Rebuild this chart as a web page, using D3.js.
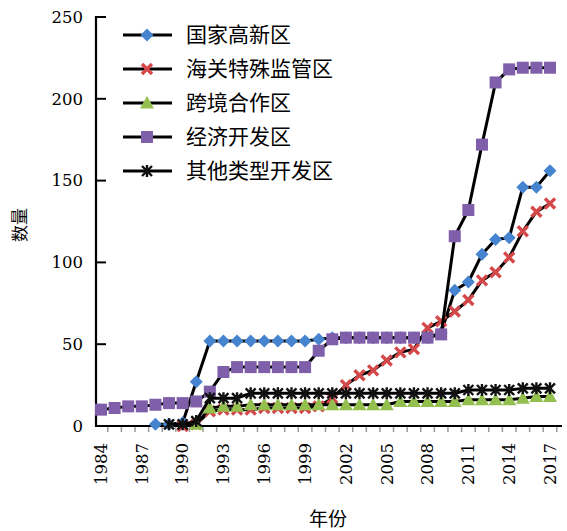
<!DOCTYPE html>
<html>
<head>
<meta charset="utf-8">
<script src="https://cdn.jsdelivr.net/npm/d3@7"></script>
<style>
  html, body { margin: 0; padding: 0; background: #fff; }
  svg { display: block; }
  .num { font-family: "DejaVu Serif", serif; }
  .cjk { font-family: "Noto Sans CJK SC", "Noto Sans", sans-serif; }
</style>
</head>
<body>
<svg id="chart" width="567" height="531"></svg>
<script>
// Years on the category axis
const years = d3.range(1984, 2018);
const yearTicks = [1984, 1987, 1990, 1993, 1996, 1999, 2002, 2005, 2008, 2011, 2014, 2017];
const valueTicks = [0, 50, 100, 150, 200, 250];

const seriesNames = ["国家高新区", "海关特殊监管区", "跨境合作区", "经济开发区", "其他类型开发区"];

// Counts per year, 1984–2017 (null = no zone of that type yet)
const gaoxin = [null, null, null, null, 1, 1, 2, 27, 52, 52, 52, 52, 52, 52, 52, 52, 53, 54, 54, 54, 54, 54, 54, 54, 54, 57, 83, 88, 105, 114, 115, 146, 146, 156];
const haiguan = [null, null, null, null, null, null, 0, 1, 9, 10, 10, 10, 11, 11, 11, 11, 12, 17, 25, 31, 34, 40, 45, 47, 60, 64, 70, 77, 89, 94, 103, 119, 131, 136];
const kuajing = [null, null, null, null, null, null, null, 1, 11, 12, 12, 13, 13, 13, 13, 13, 13, 13, 13, 13, 13, 13, 15, 15, 15, 15, 15, 16, 16, 16, 16, 17, 18, 18];
const jingji = [10, 11, 12, 12, 13, 14, 14, 15, 21, 33, 36, 36, 36, 36, 36, 36, 46, 53, 54, 54, 54, 54, 54, 54, 54, 56, 116, 132, 172, 210, 218, 219, 219, 219];
const qita = [null, null, null, null, null, 1, 1, 3, 17, 17, 17, 20, 20, 20, 20, 20, 20, 20, 20, 20, 20, 20, 20, 20, 20, 20, 20, 22, 22, 22, 22, 23, 23, 23];

const seriesValues = [gaoxin, haiguan, kuajing, jingji, qita];
const markerColors = ["#4684cf", "#d4484a", "#93bf4e", "#7f5fa9", "#111111"];
const markerKinds = ["diamond", "cross", "triangle", "square", "star"];

const svg = d3.select("#chart");

const axisLeft = 96, axisRight = 562, axisTop = 17, axisBottom = 426;

const x = d3.scalePoint().domain(years).range([101, 550]);
const y = d3.scaleLinear().domain([0, 250]).range([axisBottom, axisTop]);

// Marker drawing
function drawMarker(g, kind, color, cx, cy) {
  const m = g.append("g").attr("transform", `translate(${cx},${cy})`);
  if (kind === "diamond") {
    m.append("path").attr("d", "M0,-6.5L6.5,0L0,6.5L-6.5,0Z").attr("fill", color);
  } else if (kind === "square") {
    m.append("rect").attr("x", -6).attr("y", -6).attr("width", 12).attr("height", 12).attr("fill", color);
  } else if (kind === "triangle") {
    m.append("path").attr("d", "M0,-7L7,5.5L-7,5.5Z").attr("fill", color);
  } else if (kind === "cross") {
    m.append("path").attr("d", "M-5,-5L5,5M5,-5L-5,5").attr("stroke", color).attr("stroke-width", 3.4).attr("fill", "none");
  } else if (kind === "star") {
    m.append("path").attr("d", "M-5,-5L5,5M5,-5L-5,5M0,-6L0,6").attr("stroke", color).attr("stroke-width", 2.4).attr("fill", "none");
  }
}

// Axes
const xAxisG = svg.append("g");
xAxisG.append("line").attr("x1", axisLeft).attr("x2", axisRight).attr("y1", axisBottom).attr("y2", axisBottom)
  .attr("stroke", "#000").attr("stroke-width", 2.2);
// minor category ticks between years
const step = x.step();
const boundaries = d3.range(0, years.length + 1).map(i => x(years[0]) - step / 2 + i * step);
xAxisG.selectAll("line.minor").data(boundaries.filter(b => b > axisLeft + 1 && b < axisRight)).join("line")
  .attr("class", "minor")
  .attr("x1", d => d).attr("x2", d => d)
  .attr("y1", axisBottom + 1).attr("y2", axisBottom + 6)
  .attr("stroke", "#999").attr("stroke-width", 1.5);

xAxisG.selectAll("text.xt").data(yearTicks).join("text")
  .attr("class", "xt num")
  .attr("transform", d => `translate(${x(d)},${axisBottom + 17}) rotate(-90)`)
  .attr("text-anchor", "end")
  .attr("dy", "0.35em")
  .attr("font-size", 16.5).attr("fill", "#000")
  .text(d => d);

const yAxisG = svg.append("g");
yAxisG.append("line").attr("x1", axisLeft).attr("x2", axisLeft).attr("y1", axisTop - 1).attr("y2", axisBottom + 1)
  .attr("stroke", "#000").attr("stroke-width", 2.2);
yAxisG.selectAll("line.yt").data(valueTicks).join("line")
  .attr("class", "yt")
  .attr("x1", axisLeft).attr("x2", axisLeft + 10)
  .attr("y1", d => y(d)).attr("y2", d => y(d))
  .attr("stroke", "#000").attr("stroke-width", 2);
yAxisG.selectAll("text.yl").data(valueTicks).join("text")
  .attr("class", "yl num")
  .attr("x", 83).attr("y", d => y(d))
  .attr("dy", "0.35em")
  .attr("text-anchor", "end")
  .attr("font-size", 16.5).attr("fill", "#000")
  .text(d => d);

// Axis titles
svg.append("text")
  .attr("class", "cjk")
  .attr("transform", "translate(20,225) rotate(-90)")
  .attr("text-anchor", "middle").attr("dy", "0.35em")
  .attr("font-size", 17).attr("fill", "#000")
  .text("数量");
svg.append("text")
  .attr("class", "cjk")
  .attr("x", 328).attr("y", 519)
  .attr("text-anchor", "middle").attr("dy", "0.35em")
  .attr("font-size", 19).attr("fill", "#000")
  .text("年份");

// Series: black connecting lines with coloured markers
const line = d3.line()
  .defined(d => d.v !== null)
  .x(d => x(d.year))
  .y(d => y(d.v));

seriesValues.forEach((vals, i) => {
  const pts = years.map((yr, j) => ({ year: yr, v: vals[j] }));
  const g = svg.append("g");
  g.append("path").datum(pts)
    .attr("d", line)
    .attr("fill", "none")
    .attr("stroke", "#000")
    .attr("stroke-width", 3)
    .attr("stroke-linejoin", "round");
  pts.filter(p => p.v !== null).forEach(p => {
    drawMarker(g, markerKinds[i], markerColors[i], x(p.year), y(p.v));
  });
});

// Legend
const legend = svg.append("g");
const legendRows = [35, 69, 103, 137, 171];
seriesNames.forEach((name, i) => {
  const ly = legendRows[i];
  legend.append("line").attr("x1", 123).attr("x2", 172).attr("y1", ly).attr("y2", ly)
    .attr("stroke", "#000").attr("stroke-width", 3);
  drawMarker(legend, markerKinds[i], markerColors[i], 147, ly);
  legend.append("text")
    .attr("class", "cjk")
    .attr("x", 186).attr("y", ly).attr("dy", "0.35em")
    .attr("font-size", 21).attr("fill", "#000")
    .text(name);
});
</script>
</body>
</html>
